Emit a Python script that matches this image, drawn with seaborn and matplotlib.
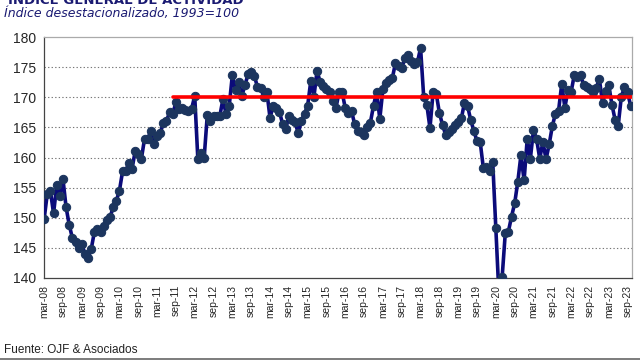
import numpy as np
import pandas as pd
import matplotlib.pyplot as plt
import seaborn as sns
from matplotlib.lines import Line2D

# monthly index, mar-08 .. oct-23
indice = [
    149.8, 154.0, 154.4, 150.7, 155.4, 153.6, 156.4, 151.7, 148.8, 146.6, 145.9, 145.0,
    145.6, 144.0, 143.3, 144.8, 147.6, 148.1, 147.7, 148.7, 149.6, 150.1, 151.7, 152.8,
    154.5, 157.7, 157.8, 159.1, 158.1, 161.0, 160.5, 159.8, 163.1, 163.1, 164.4, 162.2,
    163.6, 164.0, 165.8, 166.1, 167.5, 167.2, 169.2, 168.1, 168.2, 167.9, 167.7, 168.1,
    170.2, 159.7, 160.8, 159.9, 167.0, 166.1, 166.9, 166.9, 166.9, 169.7, 167.2, 168.6,
    173.7, 171.2, 172.6, 170.2, 172.0, 173.8, 174.2, 173.6, 171.7, 171.6, 170.1, 170.9,
    166.6, 168.5, 168.3, 167.6, 165.6, 164.7, 166.9, 166.2, 165.9, 164.0, 166.1, 167.3,
    168.6, 172.7, 170.1, 174.4, 172.5, 171.9, 171.3, 170.9, 169.4, 168.2, 170.8, 170.8,
    168.2, 167.4, 167.7, 165.5, 164.4, 164.2, 163.8, 165.0, 165.8, 168.6, 170.9, 166.4,
    171.4, 172.3, 172.9, 173.2, 175.7, 175.2, 174.9, 176.5, 177.0, 176.0, 175.5, 175.8,
    178.2, 170.0, 168.7, 164.9, 170.9, 170.6, 167.4, 165.4, 163.8, 164.3, 164.8, 165.4,
    165.9, 166.5, 169.1, 168.5, 166.2, 164.4, 162.7, 162.6, 158.3, 158.5, 157.7, 159.3,
    148.3, 137.0, 140.1, 147.4, 147.7, 150.2, 152.4, 156.0, 160.4, 156.2, 163.1, 159.8,
    164.6, 163.0, 159.8, 162.6, 159.7, 162.2, 165.2, 167.3, 167.8, 172.2, 168.3, 171.2,
    170.9, 173.7, 173.4, 173.7, 172.0, 171.7, 171.3, 170.9, 171.6, 173.0, 169.1, 171.0,
    172.0, 168.8, 166.3, 165.3, 170.1, 171.7, 170.8, 168.5,
]
meses = list(range(len(indice)))
tick_labels = [f"{m}-{y:02d}" for y in range(8, 24) for m in ("mar", "sep")]
ref_level = 170
ref_start = 41

df = pd.DataFrame({"mes": meses, "indice": indice})
ref = pd.DataFrame({"mes": [ref_start, meses[-1] + 0.5], "nivel": [ref_level, ref_level]})

sns.set_style("white")
plt.rcParams["font.family"] = ["Liberation Sans", "DejaVu Sans"]

fig = plt.figure(figsize=(6.4, 3.6), dpi=100)
ax = fig.add_axes([0.069, 0.228, 0.918, 0.669])

sns.lineplot(data=df, x="mes", y="indice", ax=ax, color="#0b0b7a", linewidth=2.6,
             marker="o", markersize=6, markerfacecolor="#1c355e",
             markeredgecolor="#1c355e", zorder=3)
sns.lineplot(data=ref, x="mes", y="nivel", ax=ax, color="#ff0000", linewidth=2.6, zorder=4)

ax.set_xlim(0, meses[-1] + 0.3)
ax.set_ylim(140, 180)
ax.set_yticks(range(140, 181, 5))
ax.set_xticks(range(0, 6 * len(tick_labels), 6))
ax.set_xticklabels(tick_labels, rotation=90, fontsize=7.5)
ax.tick_params(axis="y", labelsize=10, length=4, width=0.8, color="#444444", pad=2)
ax.tick_params(axis="x", length=4, width=0.8, color="#444444", pad=1)
ax.set_xlabel("")
ax.set_ylabel("")

for v in range(145, 180, 5):
    ax.axhline(v, color="#777777", linewidth=0.8, linestyle=(0, (1.2, 2)), zorder=1)

ax.spines["left"].set_color("#444444")
ax.spines["bottom"].set_color("#444444")
ax.spines["top"].set_color("#aaaaaa")
ax.spines["right"].set_color("#aaaaaa")
for s in ax.spines.values():
    s.set_linewidth(0.9)

fig.text(0.012, 1 - 4 / 360, "ÍNDICE GENERAL DE ACTIVIDAD", fontsize=9.5, fontweight="bold",
         color="#1a1a72", family="DejaVu Sans", va="baseline")
fig.text(0.006, 1 - 14 / 360, "Índice desestacionalizado, 1993=100", fontsize=9,
         style="italic", color="#1a1a72", family="DejaVu Sans", va="center")
fig.text(0.006, 1 - 350 / 360, "Fuente: OJF & Asociados", fontsize=8.5, color="#222222",
         va="center")
fig.add_artist(Line2D([0, 1], [0.004, 0.004], color="#666666", linewidth=1.2))

fig.savefig("out.png", dpi=100)
